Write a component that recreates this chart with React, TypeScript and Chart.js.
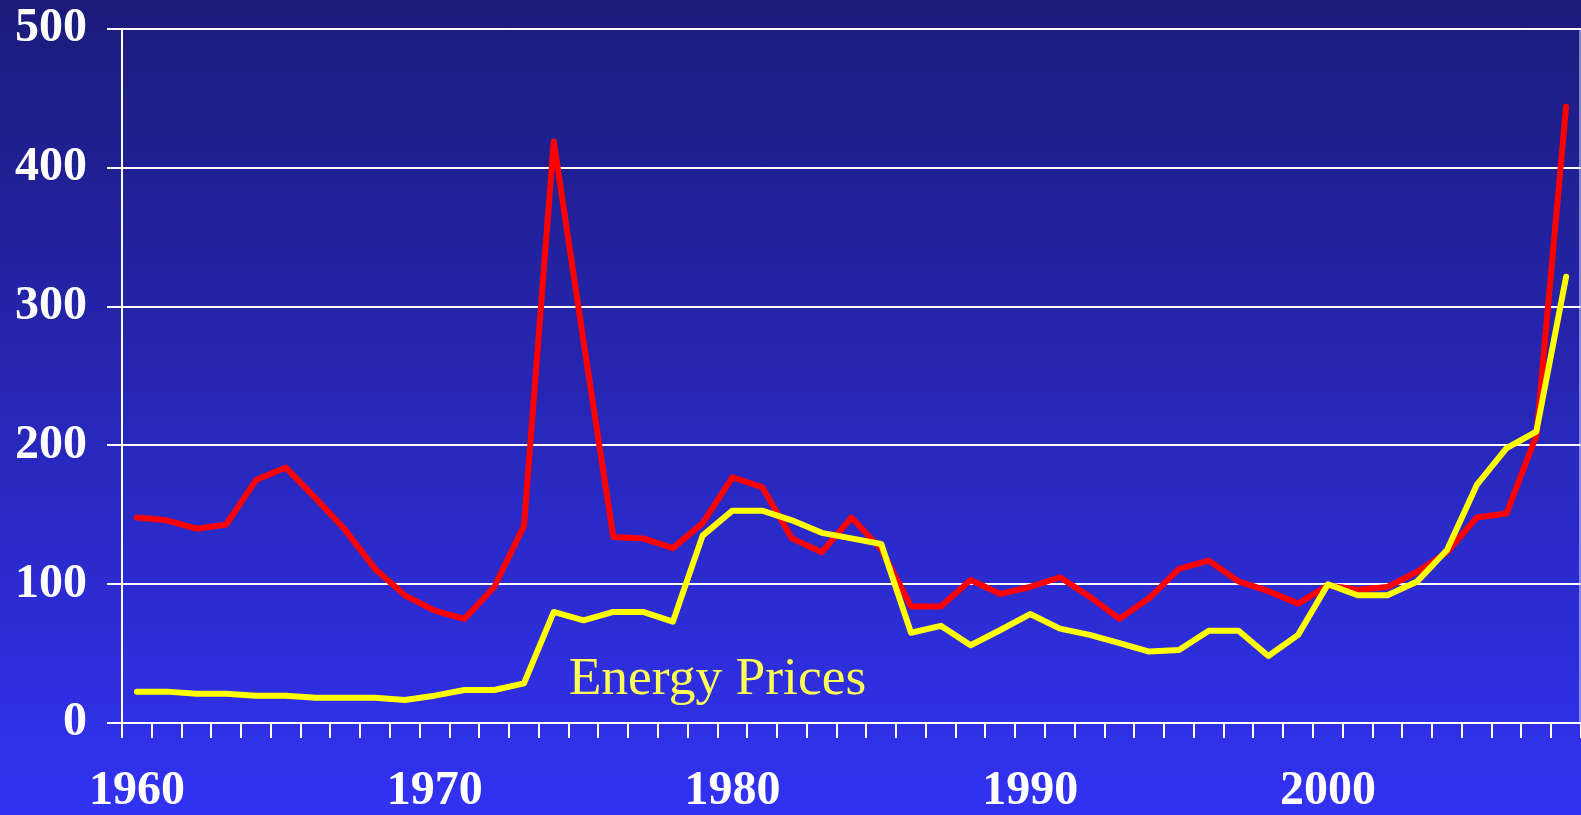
import React, { useEffect, useRef } from "react";
import { Chart, registerables } from "chart.js";

Chart.register(...registerables);

const years: number[] = [
  1960, 1961, 1962, 1963, 1964, 1965, 1966, 1967, 1968, 1969,
  1970, 1971, 1972, 1973, 1974, 1975, 1976, 1977, 1978, 1979,
  1980, 1981, 1982, 1983, 1984, 1985, 1986, 1987, 1988, 1989,
  1990, 1991, 1992, 1993, 1994, 1995, 1996, 1997, 1998, 1999,
  2000, 2001, 2002, 2003, 2004, 2005, 2006, 2007, 2008,
];

const redValues: number[] = [
  148, 146, 140, 143, 175, 184, 162, 139, 111, 92,
  81, 75, 98, 142, 419, 275, 134, 133, 126, 144,
  177, 170, 133, 123, 148, 125, 84, 84, 103, 93,
  98, 105, 91, 75, 90, 111, 117, 102, 95, 86,
  99, 96, 98, 109, 123, 148, 151, 207, 444,
];

const energyPrices: number[] = [
  22.6, 22.6, 21, 21, 19.7, 19.7, 18.2, 18.2, 18.2, 16.6,
  19.7, 23.8, 23.8, 28.6, 80, 74, 80, 80, 73, 135,
  153, 153, 146, 137, 133, 129, 65, 70, 56, 67,
  78.5, 68, 63.5, 57.5, 51.5, 52.6, 66.5, 66.5, 48.3, 63.5,
  100, 92, 92, 102, 124.6, 171.5, 198, 210, 321.5,
];

const yTicks: number[] = [0, 100, 200, 300, 400, 500];
const labelYears: number[] = [1960, 1970, 1980, 1990, 2000];
const seriesLabel = "Energy Prices";
const labelAnchorIndex = 14.5;
const labelAnchorValue = 21;

const FONT = "'Liberation Serif', 'Times New Roman', serif";

const overlayPlugin = {
  id: "overlay",
  afterDatasetsDraw(chart: any) {
    const { ctx, scales, chartArea } = chart;
    const xs = scales.x;
    const ys = scales.y;
    const base = Math.floor(labelAnchorIndex);
    const x0 = xs.getPixelForValue(base);
    const x1 = xs.getPixelForValue(base + 1);
    const lx = x0 + (x1 - x0) * (labelAnchorIndex - base);
    const ly = ys.getPixelForValue(labelAnchorValue);
    ctx.save();
    ctx.font = `normal 53.5px ${FONT}`;
    ctx.fillStyle = "#ffff55";
    ctx.textAlign = "left";
    ctx.textBaseline = "alphabetic";
    ctx.fillText(seriesLabel, lx, ly);
    ctx.strokeStyle = "rgba(220,220,255,0.7)";
    ctx.lineWidth = 1.5;
    ctx.beginPath();
    ctx.moveTo(chartArea.right - 1, chartArea.top);
    ctx.lineTo(chartArea.right - 1, chartArea.bottom);
    ctx.stroke();
    ctx.restore();
  },
};

export default function App() {
  const canvasRef = useRef<HTMLCanvasElement | null>(null);

  useEffect(() => {
    document.body.style.margin = "0";
    const canvas = canvasRef.current;
    if (!canvas) return;
    const chart = new Chart(canvas, {
      type: "line",
      data: {
        labels: years.map(String),
        datasets: [
          {
            label: seriesLabel,
            data: energyPrices,
            borderColor: "#ffff00",
            borderWidth: 6,
            pointRadius: 0,
            tension: 0,
            borderCapStyle: "round",
            borderJoinStyle: "round",
            fill: false,
          },
          {
            label: "Index",
            data: redValues,
            borderColor: "#ff0000",
            borderWidth: 6,
            pointRadius: 0,
            tension: 0,
            borderCapStyle: "round",
            borderJoinStyle: "round",
            fill: false,
          },
        ],
      },
      options: {
        responsive: false,
        animation: false,
        events: [],
        layout: { padding: { top: 0, right: 0, bottom: 0, left: 0 } },
        plugins: {
          legend: { display: false },
          tooltip: { enabled: false },
          title: { display: false },
        },
        scales: {
          x: {
            type: "category",
            offset: true,
            grid: {
              offset: true,
              drawOnChartArea: false,
              drawTicks: true,
              tickLength: 15,
              color: "#ffffff",
              lineWidth: 2,
            },
            border: { display: true, color: "#ffffff", width: 2 },
            ticks: {
              autoSkip: false,
              maxRotation: 0,
              minRotation: 0,
              padding: 25,
              color: "#ffffff",
              font: { family: FONT, size: 48, weight: "bold" },
              callback: (_v: any, i: number) =>
                labelYears.includes(years[i]) ? String(years[i]) : "",
            },
            afterFit: (scale: any) => {
              scale.height = 92;
              scale.paddingLeft = 0;
              scale.paddingRight = 0;
            },
          },
          y: {
            min: 0,
            max: 500,
            afterBuildTicks: (scale: any) => {
              scale.ticks = yTicks.map((v) => ({ value: v }));
            },
            grid: {
              drawTicks: true,
              tickLength: 15,
              color: "#ffffff",
              lineWidth: 2,
            },
            border: { display: true, color: "#ffffff", width: 2 },
            ticks: {
              padding: 20,
              color: "#ffffff",
              font: { family: FONT, size: 48, weight: "bold" },
            },
            afterFit: (scale: any) => {
              scale.width = 122;
              scale.paddingTop = 29;
              scale.paddingBottom = 0;
            },
          },
        },
      },
      plugins: [overlayPlugin],
    });
    return () => chart.destroy();
  }, []);

  return (
    <div
      style={{
        position: "fixed",
        left: 0,
        top: 0,
        width: 1581,
        height: 815,
        background: "linear-gradient(to bottom, #1c1b7a 0%, #3232f2 100%)",
      }}
    >
      <canvas ref={canvasRef} width={1581} height={815} style={{ display: "block" }} />
    </div>
  );
}
